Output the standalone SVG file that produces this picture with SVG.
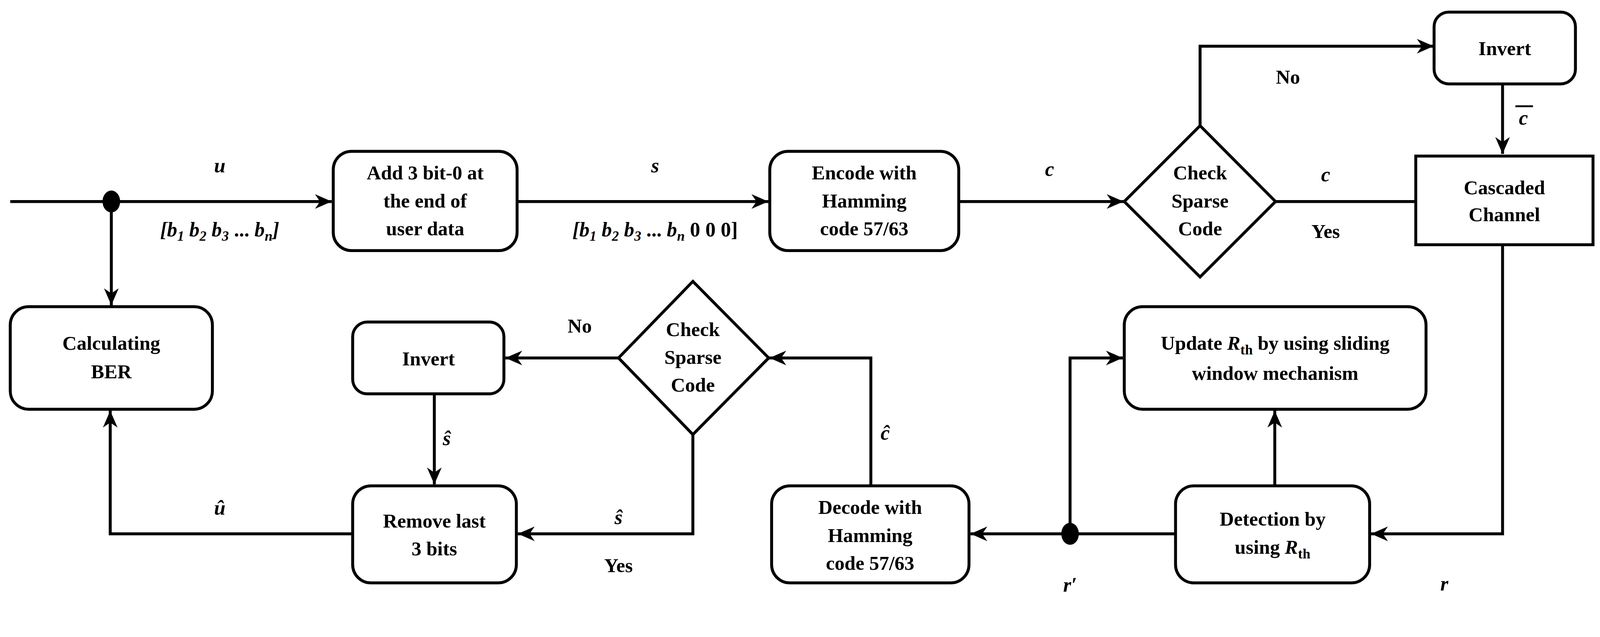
<svg xmlns="http://www.w3.org/2000/svg" width="4377" height="1630" viewBox="0 0 4377 1630">
<style>
.b{fill:#fff;stroke:#000;stroke-width:8}
.t{font-family:"Liberation Serif",serif;font-weight:bold;font-size:54px;text-anchor:middle}
.l{font-family:"Liberation Serif",serif;font-weight:bold;font-style:italic;font-size:56px;text-anchor:middle}
.w{fill:none;stroke:#000;stroke-width:8}
</style>
<defs><marker id="a" markerWidth="46" markerHeight="40" refX="10" refY="5" orient="auto" markerUnits="userSpaceOnUse" viewBox="0 0 10 10" preserveAspectRatio="none"><path d="M0,0 L10,5 L0,10 L3,5 Z"/></marker></defs>
<rect width="4377" height="1630" fill="#fff"/>
<g transform="scale(0.9375)">
<g id="connectors">
<line class="w" x1="28" y1="550" x2="906" y2="550" marker-end="url(#a)"/>
<line class="w" x1="1412" y1="550" x2="2098" y2="550" marker-end="url(#a)"/>
<line class="w" x1="2618" y1="550" x2="3068" y2="550" marker-end="url(#a)"/>
<line class="w" x1="3483" y1="550" x2="3866" y2="550"/>
<polyline class="w" points="3277,343 3277,126 3915,126" marker-end="url(#a)"/>
<line class="w" x1="4103" y1="229" x2="4103" y2="420" marker-end="url(#a)"/>
<polyline class="w" points="4103,670 4103,1457 3744,1457" marker-end="url(#a)"/>
<line class="w" x1="3210" y1="1457" x2="2650" y2="1457" marker-end="url(#a)"/>
<polyline class="w" points="2922,1457 2922,977 3066,977" marker-end="url(#a)"/>
<line class="w" x1="3481" y1="1326" x2="3481" y2="1121" marker-end="url(#a)"/>
<polyline class="w" points="2378,1326 2378,977 2101,977" marker-end="url(#a)"/>
<line class="w" x1="1689" y1="977" x2="1380" y2="977" marker-end="url(#a)"/>
<line class="w" x1="1186" y1="1075" x2="1186" y2="1322" marker-end="url(#a)"/>
<polyline class="w" points="1892,1186 1892,1457 1414,1457" marker-end="url(#a)"/>
<polyline class="w" points="963,1457 301,1457 301,1121" marker-end="url(#a)"/>
<line class="w" x1="304" y1="550" x2="304" y2="833" marker-end="url(#a)"/>
<ellipse cx="304" cy="550" rx="24" ry="30"/>
<ellipse cx="2922" cy="1457" rx="24" ry="30"/>
</g>
<g id="labels">
<text class="l" x="600" y="470">u</text>
<text class="l" x="600" y="645">[b<tspan font-size="38" dy="12">1</tspan><tspan dy="-12"> b</tspan><tspan font-size="38" dy="12">2</tspan><tspan dy="-12"> b</tspan><tspan font-size="38" dy="12">3</tspan><tspan dy="-12" font-style="normal"> ... </tspan><tspan>b</tspan><tspan font-size="38" dy="12">n</tspan><tspan dy="-12">]</tspan></text>
<text class="l" x="1789" y="470">s</text>
<text class="l" x="1789" y="645">[b<tspan font-size="38" dy="12">1</tspan><tspan dy="-12"> b</tspan><tspan font-size="38" dy="12">2</tspan><tspan dy="-12"> b</tspan><tspan font-size="38" dy="12">3</tspan><tspan dy="-12" font-style="normal"> ... </tspan><tspan>b</tspan><tspan font-size="38" dy="12">n</tspan><tspan dy="-12" font-style="normal"> 0 0 0]</tspan></text>
<text class="l" x="2866" y="480">c</text>
<text class="l" x="3620" y="495">c</text>
<text class="t" x="3620" y="650">Yes</text>
<text class="t" x="3517" y="228">No</text>
<text class="l" x="4160" y="340">c</text>
<line x1="4138" y1="290" x2="4186" y2="290" stroke="#000" stroke-width="5"/>
<text class="l" x="3944" y="1612">r</text>
<text class="l" x="2922" y="1615">r′</text>
<text class="l" x="2417" y="1200">ĉ</text>
<text class="l" x="1220" y="1215">ŝ</text>
<text class="l" x="1689" y="1430">ŝ</text>
<text class="t" x="1689" y="1562">Yes</text>
<text class="t" x="1583" y="908">No</text>
<text class="l" x="600" y="1405">û</text>
</g>
<g id="add"><rect class="b" x="910" y="413" width="502" height="271" rx="50"/><text class="t" x="1161" y="490">Add 3 bit-0 at</text><text class="t" x="1161" y="566">the end of</text><text class="t" x="1161" y="642">user data</text></g>
<g id="encode"><rect class="b" x="2102" y="413" width="516" height="271" rx="50"/><text class="t" x="2360" y="490">Encode with</text><text class="t" x="2360" y="566">Hamming</text><text class="t" x="2360" y="642">code 57/63</text></g>
<g id="check1"><polygon class="b" points="3277,343 3483,550 3277,756 3070,550"/><text class="t" x="3277" y="490">Check</text><text class="t" x="3277" y="566">Sparse</text><text class="t" x="3277" y="642">Code</text></g>
<g id="invert1"><rect class="b" x="3916" y="33" width="386" height="196" rx="40"/><text class="t" x="4109" y="150">Invert</text></g>
<g id="channel"><rect class="b" x="3866" y="426" width="484" height="242"/><text class="t" x="4108" y="530">Cascaded</text><text class="t" x="4108" y="604">Channel</text></g>
<g id="detection"><rect class="b" x="3210" y="1326" width="530" height="265" rx="50"/><text class="t" x="3475" y="1435">Detection by</text><text class="t" x="3475" y="1512">using <tspan font-style="italic">R</tspan><tspan font-size="38" dy="12">th</tspan></text></g>
<g id="update"><rect class="b" x="3070" y="837" width="824" height="280" rx="50"/><text class="t" x="3482" y="955">Update <tspan font-style="italic">R</tspan><tspan font-size="38" dy="12">th</tspan><tspan dy="-12"> by using sliding</tspan></text><text class="t" x="3482" y="1037">window mechanism</text></g>
<g id="decode"><rect class="b" x="2107" y="1326" width="539" height="265" rx="50"/><text class="t" x="2376" y="1403">Decode with</text><text class="t" x="2376" y="1479">Hamming</text><text class="t" x="2376" y="1555">code 57/63</text></g>
<g id="check2"><polygon class="b" points="1892,768 2099,977 1892,1186 1689,977"/><text class="t" x="1892" y="917">Check</text><text class="t" x="1892" y="993">Sparse</text><text class="t" x="1892" y="1069">Code</text></g>
<g id="invert2"><rect class="b" x="963" y="879" width="413" height="196" rx="40"/><text class="t" x="1170" y="997">Invert</text></g>
<g id="remove"><rect class="b" x="963" y="1326" width="447" height="265" rx="50"/><text class="t" x="1186" y="1440">Remove last</text><text class="t" x="1186" y="1516">3 bits</text></g>
<g id="ber"><rect class="b" x="28" y="837" width="552" height="280" rx="50"/><text class="t" x="304" y="955">Calculating</text><text class="t" x="304" y="1033">BER</text></g>
</g>
</svg>
